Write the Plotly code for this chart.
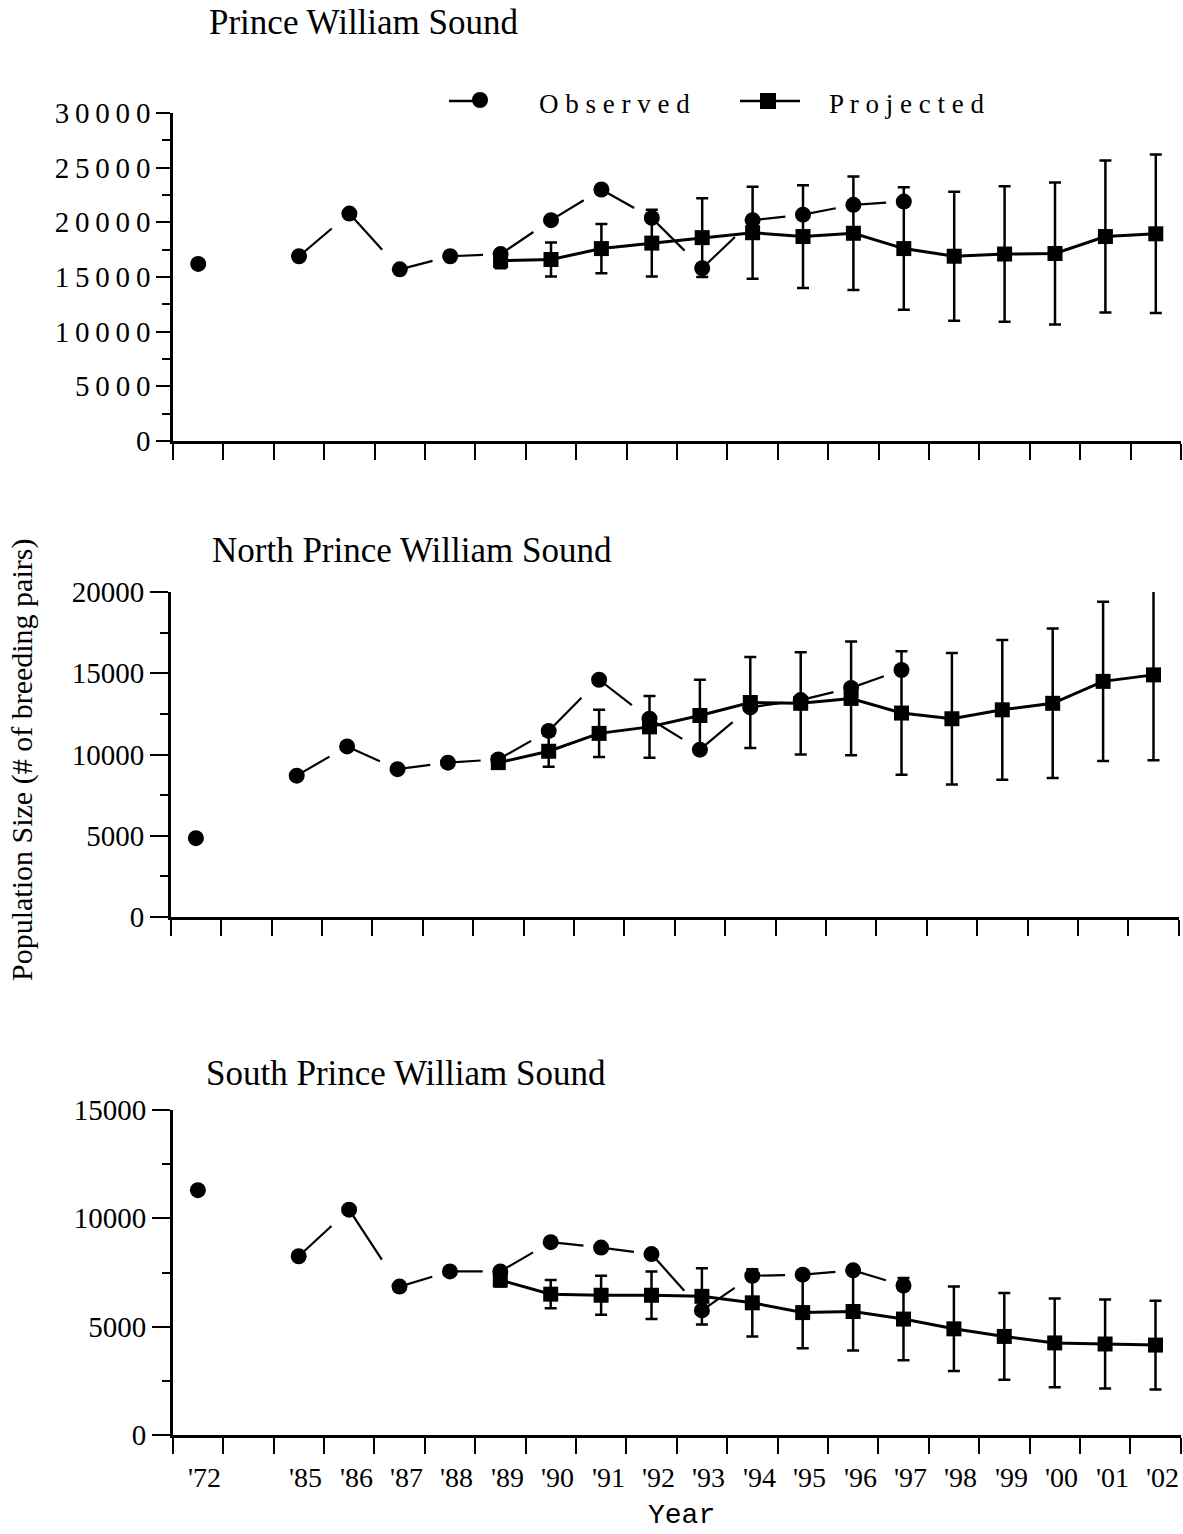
import plotly.graph_objects as go

# ---------------- data ----------------
slot_labels = ["'72", "", "'85", "'86", "'87", "'88", "'89", "'90", "'91", "'92",
               "'93", "'94", "'95", "'96", "'97", "'98", "'99", "'00", "'01", "'02"]

obs_years = ["'72", "'85", "'86", "'87", "'88", "'89", "'90", "'91", "'92",
             "'93", "'94", "'95", "'96", "'97"]
proj_years = ["'89", "'90", "'91", "'92", "'93", "'94", "'95", "'96", "'97",
              "'98", "'99", "'00", "'01", "'02"]

pws_obs = [16200, 16900, 20800, 15700, 16900, 17100, 20200, 23000, 20400,
           15800, 20200, 20700, 21600, 21900]
pws_proj = [16500, 16600, 17600, 18100, 18600, 19050, 18700, 19000, 17600,
            16900, 17100, 17150, 18700, 18950]
pws_err = [700, 1550, 2250, 3050, 3600, 4200, 4700, 5200, 5600,
           5900, 6200, 6500, 6950, 7250]

npws_obs = [4850, 8700, 10500, 9100, 9500, 9700, 11450, 14600, 12200,
            10300, 12900, 13350, 14100, 15200]
npws_proj = [9500, 10200, 11300, 11700, 12400, 13200, 13150, 13450, 12550,
             12200, 12750, 13150, 14500, 14900]
npws_err = [300, 950, 1450, 1900, 2200, 2800, 3150, 3500, 3800,
            4050, 4300, 4600, 4900, 5250]

spws_obs = [11300, 8250, 10400, 6850, 7550, 7550, 8900, 8650, 8350,
            5750, 7350, 7400, 7600, 6900]
spws_proj = [7150, 6500, 6450, 6450, 6400, 6100, 5650, 5700, 5350,
             4900, 4550, 4250, 4200, 4150]
spws_err = [300, 650, 900, 1100, 1300, 1550, 1650, 1800, 1900,
            1950, 2000, 2050, 2050, 2050]

panel_titles = ["Prince William Sound", "North Prince William Sound",
                "South Prince William Sound"]
y_max = [30000, 20000, 15000]
y_tick_vals = [[0, 5000, 10000, 15000, 20000, 25000, 30000],
               [0, 5000, 10000, 15000, 20000],
               [0, 5000, 10000, 15000]]

# ---------------- layout geometry ----------------
W, H = 1183, 1534
SERIF = "Liberation Serif, Times New Roman, serif"
MONO = "Liberation Mono, Courier New, monospace"

def py(px):
    return 1 - px / H

def pxx(px):
    return px / W

x_domains = [[pxx(173), pxx(1181)], [pxx(170.7), pxx(1178.7)], [pxx(172.7), pxx(1180.7)]]
y_domains = [[py(441), py(113)], [py(917), py(592)], [py(1435), py(1110)]]
title_pos = [(207, 22), (210, 550), (204, 1073)]
ytick_len = [14, 18, 18]

def slot_center(label):
    return slot_labels.index(label) + 0.5

fig = go.Figure()

panels = [(pws_obs, pws_proj, pws_err), (npws_obs, npws_proj, npws_err),
          (spws_obs, spws_proj, spws_err)]

FRACTION = 0.65  # drawn portion of each observed connecting segment

for i, (obs, proj, err) in enumerate(panels):
    xa = "x" if i == 0 else f"x{i+1}"
    ya = "y" if i == 0 else f"y{i+1}"
    ox = [slot_center(y) for y in obs_years]
    prx = [slot_center(y) for y in proj_years]

    # projected line with error bars
    fig.add_trace(go.Scatter(
        x=prx, y=proj, mode="lines+markers", xaxis=xa, yaxis=ya,
        line=dict(color="black", width=3),
        marker=dict(symbol="square", size=15, color="black"),
        error_y=dict(type="data", array=err, visible=True, color="black",
                     thickness=2.5, width=6),
        showlegend=False, cliponaxis=False))

    # observed broken connecting segments
    sx, sy = [], []
    for k in range(len(ox) - 1):
        if ox[k + 1] - ox[k] == 1:
            sx += [ox[k], ox[k] + FRACTION * (ox[k + 1] - ox[k]), None]
            sy += [obs[k], obs[k] + FRACTION * (obs[k + 1] - obs[k]), None]
    fig.add_trace(go.Scatter(
        x=sx, y=sy, mode="lines", xaxis=xa, yaxis=ya,
        line=dict(color="black", width=2.2), showlegend=False,
        connectgaps=False))

    # observed markers
    fig.add_trace(go.Scatter(
        x=ox, y=obs, mode="markers", xaxis=xa, yaxis=ya,
        marker=dict(symbol="circle", size=16, color="black"),
        showlegend=False, cliponaxis=False))

layout = dict(
    template="none",
    width=W, height=H, autosize=False,
    margin=dict(l=0, r=0, t=0, b=0, pad=0, autoexpand=False),
    paper_bgcolor="white", plot_bgcolor="white",
    font=dict(family=SERIF, color="black", size=28),
    showlegend=False,
)

for i in range(3):
    xk = "xaxis" if i == 0 else f"xaxis{i+1}"
    yk = "yaxis" if i == 0 else f"yaxis{i+1}"
    ya = "y" if i == 0 else f"y{i+1}"
    xa = "x" if i == 0 else f"x{i+1}"
    layout[xk] = dict(
        domain=x_domains[i], anchor=ya, range=[0, len(slot_labels)],
        tickmode="array", tickvals=list(range(len(slot_labels) + 1)),
        ticktext=[""] * (len(slot_labels) + 1),
        ticks="outside", ticklen=16, tickwidth=2, tickcolor="black",
        showline=True, linecolor="black", linewidth=2.5, automargin=False,
        showgrid=False, zeroline=False, fixedrange=True)
    if i == 0:
        ttext = ["\u2009".join(list(str(v))) for v in y_tick_vals[i]]
    else:
        ttext = [str(v) for v in y_tick_vals[i]]
    layout[yk] = dict(
        domain=y_domains[i], anchor=xa, range=[0, y_max[i]],
        tickmode="array", tickvals=y_tick_vals[i], ticktext=ttext,
        ticks="outside", ticklen=ytick_len[i], tickwidth=2, tickcolor="black",
        tickfont=dict(family=SERIF, size=29, color="black"),
        minor=dict(dtick=2500, tick0=0, ticks="outside", ticklen=8,
                   tickwidth=1.5, tickcolor="black", showgrid=False),
        showline=True, linecolor="black", linewidth=2.5, automargin=False,
        showgrid=False, zeroline=False, fixedrange=True)

fig.update_layout(**layout)

annotations = []
# panel titles
for t, (tx, ty) in zip(panel_titles, title_pos):
    annotations.append(dict(text=t, xref="paper", yref="paper", x=pxx(tx), y=py(ty),
                            xanchor="left", yanchor="middle", showarrow=False,
                            font=dict(family=SERIF, size=35, color="black")))
# x tick labels on bottom panel
for lab in slot_labels:
    if lab:
        annotations.append(dict(text=lab, xref="x3", yref="paper", x=slot_center(lab),
                                y=py(1477), xanchor="center", yanchor="middle",
                                xshift=7, showarrow=False,
                                font=dict(family=SERIF, size=28, color="black")))
# axis titles
annotations.append(dict(text="Year", xref="paper", yref="paper", x=pxx(681), y=py(1515),
                        xanchor="center", yanchor="middle", showarrow=False,
                        font=dict(family=MONO, size=28, color="black")))
annotations.append(dict(text="Population Size (# of breeding pairs)", xref="paper",
                        yref="paper", x=pxx(22), y=py(760), xanchor="center",
                        yanchor="middle", textangle=-90, showarrow=False,
                        font=dict(family=SERIF, size=30, color="black")))
# legend texts
annotations.append(dict(text=" ".join(list("Observed")), xref="paper", yref="paper",
                        x=pxx(537), y=py(104), xanchor="left", yanchor="middle",
                        showarrow=False, font=dict(family=SERIF, size=27, color="black")))
annotations.append(dict(text=" ".join(list("Projected")), xref="paper", yref="paper",
                        x=pxx(827), y=py(104), xanchor="left", yanchor="middle",
                        showarrow=False, font=dict(family=SERIF, size=27, color="black")))

shapes = [
    dict(type="line", xref="paper", yref="paper", x0=pxx(449), x1=pxx(478),
         y0=py(101), y1=py(101), line=dict(color="black", width=2.5)),
    dict(type="circle", xref="paper", yref="paper", xsizemode="pixel", ysizemode="pixel",
         xanchor=pxx(480), yanchor=py(100), x0=-8, x1=8, y0=-8, y1=8,
         fillcolor="black", line=dict(color="black", width=0)),
    dict(type="line", xref="paper", yref="paper", x0=pxx(740), x1=pxx(800),
         y0=py(101), y1=py(101), line=dict(color="black", width=2.5)),
    dict(type="rect", xref="paper", yref="paper", xsizemode="pixel", ysizemode="pixel",
         xanchor=pxx(768), yanchor=py(101), x0=-8, x1=8, y0=-8, y1=8,
         fillcolor="black", line=dict(color="black", width=0)),
]

fig.update_layout(annotations=annotations, shapes=shapes)
fig.write_html("out.html")
